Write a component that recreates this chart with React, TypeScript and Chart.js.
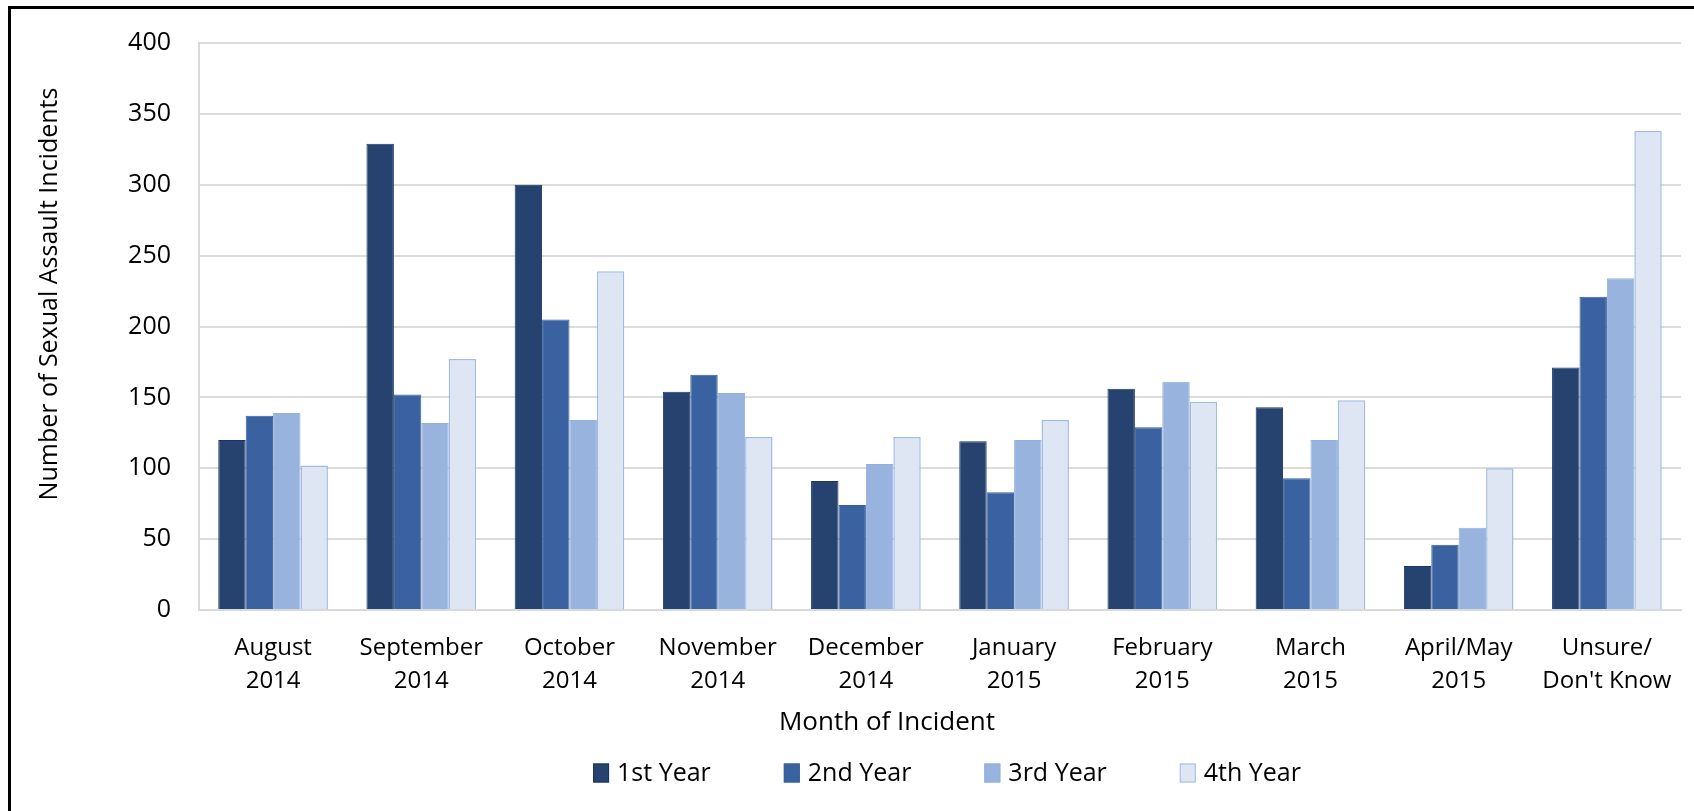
import React, { useEffect, useRef } from "react";
import { Chart, registerables } from "chart.js";

Chart.register(...registerables);

// ---------- data ----------
const categories: string[][] = [
  ["August", "2014"],
  ["September", "2014"],
  ["October", "2014"],
  ["November", "2014"],
  ["December", "2014"],
  ["January", "2015"],
  ["February", "2015"],
  ["March", "2015"],
  ["April/May", "2015"],
  ["Unsure/", "Don't Know"],
];

const seriesNames = ["1st Year", "2nd Year", "3rd Year", "4th Year"];

const year1 = [120, 329, 300, 154, 91, 119, 156, 143, 31, 171];
const year2 = [137, 152, 205, 166, 74, 83, 129, 93, 46, 221];
const year3 = [139, 132, 134, 153, 103, 120, 161, 120, 58, 234];
const year4 = [102, 177, 239, 122, 122, 134, 147, 148, 100, 338];

const yMin = 0;
const yMax = 400;
const yStep = 50;

const xAxisTitle = "Month of Incident";
const yAxisTitle = "Number of Sexual Assault Incidents";

// ---------- styles ----------
const FONT = "'Open Sans', 'Noto Sans', sans-serif";
const fillColors = ["#264370", "#3a62a1", "#98b3de", "#dee5f3"];
const borderColors = ["#1c3463", "#3560a0", "#93afdc", "#a2bbe5"];
const borderWidths = [1, 1, 1, 1.5];

const textPlugin = {
  id: "customText",
  afterDraw(chart: any) {
    const ctx: CanvasRenderingContext2D = chart.ctx;
    const area = chart.chartArea;

    // y axis title
    ctx.save();
    ctx.fillStyle = "#000";
    ctx.font = `25px ${FONT}`;
    ctx.textAlign = "center";
    ctx.textBaseline = "middle";
    ctx.translate(50, area.top + 251);
    ctx.rotate(-Math.PI / 2);
    ctx.fillText(yAxisTitle, 0, 0);
    ctx.restore();

    // x axis title
    ctx.save();
    ctx.fillStyle = "#000";
    ctx.font = `26px ${FONT}`;
    ctx.textAlign = "center";
    ctx.textBaseline = "middle";
    ctx.fillText(xAxisTitle, 887, area.bottom + 113);
    ctx.restore();

    // legend
    ctx.save();
    ctx.font = `25px ${FONT}`;
    ctx.textAlign = "left";
    ctx.textBaseline = "middle";
    const boxW = 16;
    const boxH = 19;
    const gapText = 8;
    const gapItem = 73;
    const items = chart.data.datasets.map((ds: any) => ({
      label: ds.label as string,
      w: ctx.measureText(ds.label).width,
      fill: ds.backgroundColor as string,
      stroke: ds.borderColor as string,
    }));
    let total = 0;
    items.forEach((it: any, i: number) => {
      total += boxW + gapText + it.w + (i < items.length - 1 ? gapItem : 0);
    });
    let x = 947 - total / 2;
    const cy = area.bottom + 163;
    items.forEach((it: any) => {
      ctx.fillStyle = it.fill;
      ctx.fillRect(x, cy - boxH / 2, boxW, boxH);
      ctx.strokeStyle = it.stroke;
      ctx.lineWidth = 1;
      ctx.strokeRect(x + 0.5, cy - boxH / 2 + 0.5, boxW - 1, boxH - 1);
      ctx.fillStyle = "#000";
      ctx.fillText(it.label, x + boxW + gapText, cy + 1);
      x += boxW + gapText + it.w + gapItem;
    });
    ctx.restore();
  },
};

export default function App() {
  const canvasRef = useRef<HTMLCanvasElement | null>(null);

  useEffect(() => {
    if (!canvasRef.current) return;
    const seriesData = [year1, year2, year3, year4];
    const chart = new Chart(canvasRef.current, {
      type: "bar",
      data: {
        labels: categories,
        datasets: seriesNames.map((name, i) => ({
          label: name,
          data: seriesData[i],
          backgroundColor: fillColors[i],
          borderColor: borderColors[i],
          borderWidth: borderWidths[i],
          categoryPercentage: 0.74,
          barPercentage: 1.0,
        })),
      },
      options: {
        animation: false,
        responsive: true,
        maintainAspectRatio: false,
        layout: { padding: { left: 0, right: 13, top: 39, bottom: 0 } },
        plugins: {
          legend: { display: false },
          tooltip: { enabled: false },
          title: { display: false },
        },
        scales: {
          x: {
            grid: { display: false, drawTicks: false },
            border: { display: true, color: "#d9d9d9", width: 2 },
            ticks: {
              color: "#000",
              padding: 21,
              maxRotation: 0,
              autoSkip: false,
              font: { family: FONT, size: 24, lineHeight: 1.39 },
            },
            afterFit: (scale: any) => {
              scale.height = 201;
            },
          },
          y: {
            min: yMin,
            max: yMax,
            grid: { color: "#dcdcdc", lineWidth: 2, drawTicks: false },
            border: { display: true, color: "#d9d9d9", width: 2 },
            ticks: {
              stepSize: yStep,
              color: "#000",
              padding: 28,
              font: { family: FONT, size: 25 },
            },
            afterFit: (scale: any) => {
              scale.width = 199;
            },
          },
        },
      },
      plugins: [textPlugin],
    });
    return () => chart.destroy();
  }, []);

  return (
    <>
      <div
        style={{
          position: "fixed",
          left: 8,
          top: 6,
          right: -20,
          bottom: -20,
          borderTop: "3px solid #000",
          borderLeft: "3px solid #000",
          pointerEvents: "none",
        }}
      />
      <div
        style={{
          position: "fixed",
          left: 0,
          top: 0,
          width: 1694,
          height: 811,
        }}
      >
        <canvas ref={canvasRef} />
      </div>
    </>
  );
}
